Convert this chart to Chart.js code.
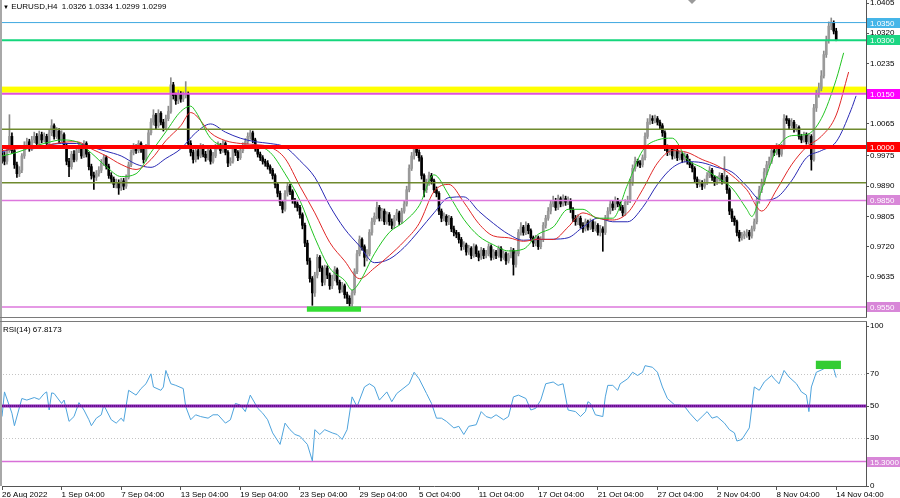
<!DOCTYPE html>
<html>
<head>
<meta charset="utf-8">
<script src="https://cdn.jsdelivr.net/npm/chart.js@4.4.0/dist/chart.umd.min.js"></script>
<style>
  html, body { margin: 0; padding: 0; background: #fff; }
  #wrap { position: relative; width: 900px; height: 498px; overflow: hidden; font-family: "Liberation Sans", Arial, sans-serif; }
  canvas { position: absolute; left: 0; }
  #main { top: 0; }
  #rsi { top: 318px; }
  .txt { position: absolute; font-size: 8px; line-height: 10px; color: #000; white-space: pre; }
  .tri { position: absolute; left: 688px; top: 0; width: 0; height: 0; border-left: 4px solid transparent; border-right: 4px solid transparent; border-top: 4px solid #9a9a9a; }
</style>
</head>
<body>
<div id="wrap">
  <canvas id="main" width="900" height="318"></canvas>
  <canvas id="rsi" width="900" height="180"></canvas>
  <div class="txt" style="left:3px;top:2px"><span style="font-size:6px">▼</span> EURUSD,H4  1.0326 1.0334 1.0299 1.0299</div>
  <div class="txt" style="left:3px;top:325px">RSI(14) 67.8173</div>
  <div class="tri"></div>
</div>
<script>
const FONT = '"Liberation Sans", Arial, sans-serif';

// EURUSD H4 candles, in pips (1.0000 = 10000); open of each bar = previous close
const firstOpen = 9985;
const closes = [
  9975,9960,9990,10030,9990,9950,9925,9935,9975,10005,
  10015,9995,10020,10030,10010,10035,10020,10030,10010,10040,
  10060,10030,10045,10020,10035,10005,9960,9945,9980,9965,
  9990,10000,9975,10010,9980,9945,9920,9915,9925,9935,
  9955,9970,9945,9920,9910,9895,9900,9885,9905,9890,
  9915,9950,9985,10000,9990,10010,9995,9965,10000,10040,
  10070,10090,10060,10095,10070,10055,10080,10100,10175,10145,
  10130,10150,10135,10145,10150,10010,9985,9965,9990,9975,
  10000,9980,9970,9990,9960,9975,10000,10005,9990,10010,
  9985,9955,9960,9995,9985,9970,9990,10005,10015,10030,
  10040,10020,9995,9980,9970,9960,9955,9945,9935,9920,
  9895,9870,9845,9825,9870,9890,9875,9850,9840,9830,
  9810,9780,9730,9680,9630,9590,9640,9690,9660,9620,
  9660,9640,9610,9630,9655,9620,9600,9610,9585,9575,
  9560,9590,9650,9700,9740,9720,9690,9700,9760,9790,
  9805,9830,9800,9820,9790,9810,9790,9780,9800,9815,
  9790,9820,9840,9880,9940,9975,9995,9985,9970,9920,
  9880,9900,9920,9905,9880,9870,9820,9800,9805,9790,
  9800,9770,9760,9755,9740,9720,9725,9705,9715,9695,
  9720,9700,9690,9710,9695,9700,9720,9690,9705,9695,
  9715,9690,9700,9680,9695,9710,9670,9700,9760,9775,
  9760,9780,9765,9745,9730,9745,9720,9740,9780,9800,
  9820,9840,9850,9830,9855,9840,9855,9845,9850,9825,
  9800,9790,9800,9780,9770,9790,9775,9790,9770,9780,
  9760,9770,9760,9800,9820,9840,9830,9850,9840,9830,
  9815,9845,9850,9900,9940,9960,9955,9950,9970,10030,
  10070,10080,10075,10080,10070,10060,10040,10000,9985,9995,
  9975,9990,9970,9980,9965,9975,9960,9950,9940,9910,
  9895,9900,9890,9900,9920,9935,9915,9900,9910,9920,
  9905,9915,9880,9820,9800,9790,9760,9745,9750,9755,
  9760,9750,9770,9790,9850,9880,9900,9930,9950,9960,
  9990,9985,10000,9980,10000,10080,10075,10060,10070,10050,
  10055,10030,10020,10035,10015,10030,9965,10110,10150,10165,
  10200,10260,10300,10340,10350,10326,10299
];
const highs = [
  9995,9985,10000,10091,10040,9998,9958,9945,9982,10015,
  10025,10022,10030,10042,10038,10045,10042,10040,10036,10050,
  10077,10065,10055,10052,10046,10040,10010,9968,9988,9990,
  9998,10013,10006,10018,10015,9986,9952,9930,9934,9945,
  9965,9978,9975,9952,9928,9916,9910,9908,9912,9912,
  9922,9958,9992,10010,10006,10018,10015,10000,10008,10050,
  10080,10105,10095,10105,10100,10078,10090,10115,10195,10182,
  10152,10160,10156,10155,10184,10155,10018,9992,9998,9996,
  10010,10006,9988,9998,9995,9985,10008,10015,10010,10018,
  10015,9990,9970,10003,10002,9990,9998,10012,10024,10040,
  10049,10045,10025,10000,9986,9976,9966,9962,9950,9940,
  9925,9900,9876,9850,9878,9900,9895,9880,9856,9846,
  9836,9815,9786,9738,9688,9636,9648,9698,9695,9666,
  9668,9666,9646,9640,9664,9660,9626,9620,9615,9592,
  9582,9598,9658,9710,9750,9745,9725,9712,9768,9800,
  9815,9845,9836,9828,9826,9818,9816,9798,9808,9825,
  9820,9828,9850,9890,9950,9985,10001,10001,9992,9976,
  9925,9910,9930,9926,9910,9888,9875,9826,9815,9810,
  9808,9805,9778,9766,9760,9746,9734,9730,9724,9720,
  9728,9725,9708,9718,9715,9710,9728,9725,9712,9710,
  9722,9720,9708,9705,9702,9718,9715,9708,9768,9788,
  9780,9790,9785,9770,9750,9752,9750,9748,9788,9808,
  9830,9850,9862,9856,9865,9860,9866,9862,9860,9855,
  9830,9808,9810,9806,9788,9798,9795,9798,9795,9790,
  9785,9780,9776,9808,9830,9850,9848,9860,9856,9846,
  9836,9852,9862,9910,9950,9972,9966,9962,9978,10040,
  10080,10091,10088,10090,10086,10076,10066,10046,10006,10004,
  10000,9998,9995,9988,9986,9984,9980,9966,9956,9945,
  9916,9908,9906,9910,9928,9945,9940,9920,9918,9928,
  9926,9973,9920,9885,9826,9806,9795,9766,9760,9764,
  9768,9766,9778,9798,9860,9890,9910,9940,9960,9972,
  10000,10000,10010,10006,10008,10091,10088,10080,10080,10075,
  10064,10060,10036,10042,10040,10038,10035,10120,10160,10180,
  10215,10270,10312,10352,10363,10355,10334
];
const lows = [
  9955,9950,9952,9985,9982,9940,9915,9917,9928,9968,
  9998,9988,9990,10012,10002,10005,10012,10014,10000,10004,
  10032,10022,10024,10012,10014,9998,9950,9917,9938,9958,
  9960,9984,9968,9970,9972,9936,9910,9881,9906,9918,
  9928,9948,9938,9912,9900,9886,9885,9867,9878,9880,
  9884,9910,9945,9978,9982,9984,9985,9955,9960,9995,
  10034,10062,10052,10055,10062,10045,10050,10074,10095,10135,
  10120,10122,10126,10128,10138,10000,9975,9955,9958,9966,
  9970,9972,9960,9964,9952,9955,9970,9994,9982,9985,
  9978,9945,9948,9955,9976,9962,9965,9984,9998,10008,
  10022,10012,9988,9972,9962,9952,9946,9938,9926,9910,
  9885,9860,9835,9815,9820,9862,9866,9842,9830,9820,
  9800,9770,9720,9670,9620,9555,9580,9632,9650,9610,
  9612,9630,9600,9602,9624,9612,9590,9592,9575,9560,
  9540,9545,9584,9644,9694,9710,9665,9680,9694,9752,
  9782,9798,9792,9792,9782,9783,9780,9770,9772,9794,
  9782,9785,9814,9834,9874,9934,9966,9976,9960,9910,
  9860,9872,9892,9896,9872,9860,9810,9790,9792,9780,
  9782,9762,9750,9745,9730,9710,9712,9696,9698,9686,
  9690,9692,9680,9684,9686,9688,9694,9682,9684,9686,
  9690,9680,9684,9670,9674,9688,9640,9662,9694,9752,
  9752,9754,9756,9736,9720,9722,9712,9714,9734,9772,
  9794,9812,9832,9822,9824,9832,9834,9836,9838,9816,
  9790,9780,9782,9772,9760,9764,9766,9768,9762,9764,
  9752,9750,9707,9754,9794,9812,9822,9824,9832,9822,
  9806,9808,9838,9844,9892,9932,9946,9942,9944,9964,
  10024,10064,10066,10068,10062,10050,10030,9990,9976,9978,
  9966,9968,9962,9964,9956,9958,9952,9942,9930,9900,
  9886,9888,9880,9884,9894,9914,9906,9892,9894,9904,
  9896,9898,9870,9810,9790,9780,9750,9735,9738,9742,
  9746,9740,9744,9764,9784,9842,9872,9894,9922,9942,
  9954,9976,9978,9972,9974,9995,10066,10052,10054,10042,
  10044,10022,10012,10014,10008,10008,9935,9960,10100,10140,
  10158,10194,10252,10292,10330,10318,10299
];

// time axis: 349 slots (337 bars + shifted space on the right)
const slots = 349;
const xTickIdx = [0,24,48,72,96,120,144,168,192,216,240,264,288,312,336];
const xTickText = ['26 Aug 2022','1 Sep 04:00','7 Sep 04:00','13 Sep 04:00','19 Sep 04:00','23 Sep 04:00',
  '29 Sep 04:00','5 Oct 04:00','11 Oct 04:00','17 Oct 04:00','21 Oct 04:00','27 Oct 04:00',
  '2 Nov 04:00','8 Nov 04:00','14 Nov 04:00'];

// Alligator lines (bar index, pips)
const lipsAt = [0,6,12,18,24,30,36,42,48,54,60,66,72,76,78,84,90,96,102,108,114,120,126,132,138,141,144,150,156,162,
  168,174,180,186,192,198,204,210,216,222,228,234,240,246,252,258,264,270,276,282,288,294,300,302,306,312,318,324,330,336,339];
const lipsVal = [9975,9985,10000,10012,10020,10015,9983,9945,9917,9925,9985,10043,10100,10115,10100,10025,10003,10001,10003,9985,
  9925,9850,9745,9660,9625,9598,9620,9700,9760,9790,9835,9922,9865,9797,9750,9725,9708,9713,9755,9775,
  9825,9825,9800,9800,9895,9990,10020,10025,9965,9942,9915,9885,9825,9805,9880,9993,10032,10035,10080,10190,10265];
const teethAt = [0,6,12,18,24,30,36,42,48,54,60,66,72,76,78,84,90,96,102,108,114,120,126,132,138,144,150,156,162,168,
  174,180,186,192,198,204,210,216,222,228,234,240,246,252,258,264,270,276,282,288,294,300,306,312,318,324,330,336,341];
const teethVal = [9990,9995,10000,10005,10013,10015,9995,9975,9951,9937,9965,10018,10060,10097,10090,10040,10018,10010,10007,10000,
  9968,9890,9815,9732,9680,9630,9660,9695,9735,9785,9875,9895,9845,9785,9750,9745,9735,9741,9740,9775,
  9815,9800,9795,9815,9880,9955,9990,9985,9965,9948,9920,9880,9820,9880,9950,10000,10030,10090,10211];
const jawAt = [0,6,12,18,24,30,36,42,48,54,60,66,72,78,84,90,96,102,108,114,120,126,132,138,144,150,156,162,168,174,
  180,186,192,198,204,210,216,222,228,234,240,246,252,258,264,270,276,282,288,294,300,306,312,318,324,330,336,342,344];
const jawVal = [9985,10000,9995,10005,10010,10010,10000,9988,9975,9952,9943,9968,9995,10040,10065,10042,10025,10015,10010,10000,
  9962,9915,9835,9770,9722,9675,9685,9718,9765,9815,9858,9860,9820,9785,9755,9738,9740,9741,9745,9775,
  9800,9790,9790,9830,9895,9942,9959,9956,9943,9930,9890,9850,9858,9905,9970,9990,10015,10105,10144];

// RSI(14) (bar index, value)
const rsiAt = [0,1,4,5,8,10,13,15,17,18,19,20,21,24,25,27,29,31,33,35,36,38,40,41,44,46,48,49,51,54,56,58,60,61,64,65,66,68,70,73,
  74,76,78,80,83,85,87,90,92,94,96,98,100,103,105,107,109,112,114,116,118,120,123,125,126,128,130,133,135,137,
  139,141,143,146,148,150,152,155,157,159,164,166,168,171,173,175,177,179,182,184,186,188,191,193,195,197,199,202,204,206,
  208,211,213,215,217,219,222,224,226,228,231,233,235,236,237,239,242,243,244,246,248,249,252,254,256,258,259,262,264,266,
  268,271,273,275,277,280,282,284,286,288,291,293,295,296,298,301,303,305,307,310,311,313,315,317,320,322,324,325,326,328,
  331,333,335,336];
const rsiVal = [43.4,58.8,45.5,37.7,54.7,53.7,55.3,54.1,57.8,58.8,47.5,58.2,57.8,51.6,53.7,40.4,43.4,52.1,47.5,41.4,37.7,42.4,44.5,50.6,41.4,39.3,42.4,40.4,59.8,56.8,60.9,63.9,70.1,61.9,59.8,61.9,72.2,63.9,62.9,60.9,
  49.6,41.4,44.5,43.4,42.4,44.5,44.5,39.3,41.4,51.6,50.6,46.5,56.8,48.6,45.5,41.4,33.2,26.0,39.3,35.2,32.2,31.1,26.0,15.7,35.2,32.2,35.2,33.2,32.2,29.1,
  35.2,55.7,49.6,61.9,63.9,61.9,53.7,58.8,52.7,57.8,63.9,71.1,67.0,57.8,51.6,42.4,42.4,40.4,36.3,37.3,32.2,37.3,38.3,46.5,43.4,42.4,44.5,41.4,43.4,55.7,
  56.8,54.7,47.5,48.6,53.7,63.9,65.0,62.9,63.9,47.5,46.5,43.4,46.5,52.7,51.6,44.5,43.4,55.7,62.9,62.9,59.8,63.9,67.0,71.1,69.1,71.1,75.2,74.2,71.1,61.9,
  54.7,50.6,50.6,49.6,45.5,40.4,43.4,46.5,42.4,43.4,39.3,35.2,33.2,28.1,29.1,36.3,61.9,59.8,65.0,69.1,67.0,63.9,72.2,68.1,63.9,58.8,56.8,46.5,61.9,71.1,
  73.2,76.3,73.2,67.8];

// axis ticks and horizontal levels
const priceTicks = [1.0405, 1.0320, 1.0235, 1.0065, 0.9975, 0.9890, 0.9805, 0.9720, 0.9635];
const rsiTicks = [100, 70, 50, 30, 0];
const levels = [1.0350, 1.0300, 1.0150, 1.0050, 1.0000, 0.9900, 0.9850, 0.9550];
const band = [1.0153, 1.0170];
const rsiLevels = [70, 30, 50, 15.3];
const priceMark = [122.8, 144.6, 0.9537, 0.9552];
const rsiMark = [327.8, 337.9, 73.1, 78.3];

const levelStyle = [
  { c: '#3ea8e0', w: 1, tag: '#45b5e8' },
  { c: '#14d67c', w: 2, tag: '#1cd683' },
  { c: '#e050e0', w: 2, tag: '#ff00ff' },
  { c: '#6f8a2e', w: 1.5 },
  { c: '#ff0000', w: 4, tag: '#ff0000' },
  { c: '#6f8a2e', w: 1.5 },
  { c: '#dd77dd', w: 1.5, tag: '#d887d8' },
  { c: '#dd77dd', w: 1.5, tag: '#d887d8' }
];

[[highs, 'highs'], [lows, 'lows']].forEach(([a, n]) => { if (a.length !== closes.length) throw new Error(n + ' ' + a.length + ' vs ' + closes.length); });
[[lipsAt, lipsVal, 'lips'], [teethAt, teethVal, 'teeth'], [jawAt, jawVal, 'jaw'], [rsiAt, rsiVal, 'rsi']].forEach(([a, b, n]) => {
  if (a.length !== b.length) throw new Error(n + ' ' + a.length + ' vs ' + b.length);
});

const labels = Array(slots).fill('');
xTickIdx.forEach((v, k) => labels[v] = xTickText[k]);
const opens = closes.map((c, i) => i ? closes[i - 1] : firstOpen);
const up = closes.map((c, i) => c >= opens[i]);
const sparse = (at, val, k) => {
  const a = Array(slots).fill(null);
  at.forEach((x, j) => a[x] = val[j] / k);
  return a;
};

function tag(ctx, x, yPix, text, bg) {
  const y = Math.round(yPix);
  ctx.fillStyle = bg;
  ctx.fillRect(x, y - 5, 33, 10);
  ctx.fillStyle = '#fff';
  ctx.font = '8px ' + FONT;
  ctx.textAlign = 'left';
  ctx.textBaseline = 'middle';
  ctx.fillText(text, x + 3, y + 0.5);
}

function hline(ctx, x0, x1, y, color, w, dash) {
  ctx.save();
  ctx.strokeStyle = color;
  ctx.lineWidth = w;
  ctx.setLineDash(dash || []);
  ctx.beginPath();
  ctx.moveTo(x0, y);
  ctx.lineTo(x1, y);
  ctx.stroke();
  ctx.restore();
}

const mainDraw = {
  id: 'mainDraw',
  beforeDatasetsDraw(chart) {
    const { ctx, chartArea: a, scales: { y } } = chart;
    const y0 = y.getPixelForValue(band[1]), y1 = y.getPixelForValue(band[0]);
    ctx.fillStyle = '#ffff00';
    ctx.fillRect(0, y0, a.right, y1 - y0);
  },
  afterDatasetsDraw(chart) {
    const { ctx, chartArea: a, scales: { x, y } } = chart;
    levels.forEach((v, k) => hline(ctx, 0, a.right, y.getPixelForValue(v), levelStyle[k].c, levelStyle[k].w));
    const px0 = x.getPixelForValue(priceMark[0]), px1 = x.getPixelForValue(priceMark[1]);
    const py0 = y.getPixelForValue(priceMark[3]), py1 = y.getPixelForValue(priceMark[2]);
    ctx.fillStyle = '#33dd33';
    ctx.fillRect(px0, py0, px1 - px0, py1 - py0);
  },
  afterDraw(chart) {
    const { ctx, chartArea: a, scales: { y } } = chart;
    levels.forEach((v, k) => {
      if (levelStyle[k].tag) tag(ctx, a.right + 1, y.getPixelForValue(v), v.toFixed(4), levelStyle[k].tag);
    });
    ctx.fillStyle = '#a8a8a8';
    ctx.fillRect(0, 0, 2, chart.height);
    ctx.fillStyle = '#7a7a7a';
    ctx.fillRect(0, chart.height - 1, a.right + 1, 1);
  }
};

const rsiDraw = {
  id: 'rsiDraw',
  beforeDatasetsDraw(chart) {
    const { ctx, chartArea: a, scales: { y } } = chart;
    hline(ctx, 0, a.right, Math.round(y.getPixelForValue(rsiLevels[0])) + 0.5, '#c4c4c4', 1, [1, 2]);
    hline(ctx, 0, a.right, Math.round(y.getPixelForValue(rsiLevels[1])) + 0.5, '#c4c4c4', 1, [1, 2]);
    hline(ctx, 0, a.right, y.getPixelForValue(rsiLevels[3]), '#d870d8', 1.5);
  },
  afterDatasetsDraw(chart) {
    const { ctx, chartArea: a, scales: { x, y } } = chart;
    const y50 = Math.round(y.getPixelForValue(rsiLevels[2]));
    hline(ctx, 0, a.right, y50, '#8a20b8', 3);
    hline(ctx, 0, a.right, y50, '#3c0a50', 1, [1, 1]);
    const px0 = x.getPixelForValue(rsiMark[0]), px1 = x.getPixelForValue(rsiMark[1]);
    const py0 = y.getPixelForValue(rsiMark[3]), py1 = y.getPixelForValue(rsiMark[2]);
    ctx.fillStyle = '#33cc33';
    ctx.fillRect(px0, py0, px1 - px0, py1 - py0);
  },
  afterDraw(chart) {
    const { ctx, chartArea: a, scales: { y } } = chart;
    tag(ctx, a.right + 1, y.getPixelForValue(rsiLevels[3]), '15.3000', '#d887d8');
    ctx.fillStyle = '#a8a8a8';
    ctx.fillRect(0, 0, 2, a.bottom);
    ctx.fillStyle = '#7a7a7a';
    ctx.fillRect(0, a.top - 1, a.right + 1, 1);
  }
};

Chart.defaults.font.family = FONT;
Chart.defaults.font.size = 8;
Chart.defaults.color = '#000';

const xScale = (show) => ({
  type: 'category',
  display: show,
  offset: false,
  afterBuildTicks: s => { s.ticks = xTickIdx.map(v => ({ value: v })); },
  afterFit: s => { if (show) s.height = 12; s.paddingLeft = 0; s.paddingRight = 0; },
  ticks: { autoSkip: false, maxRotation: 0, minRotation: 0, align: 'start', padding: 0, color: '#000' },
  grid: { offset: false, drawOnChartArea: false, tickLength: 4, color: '#555' },
  border: { color: '#555' }
});

const yScale = (min, max, ticks, fmt) => ({
  position: 'right',
  min: min,
  max: max,
  afterBuildTicks: s => { s.ticks = ticks.map(v => ({ value: v })); },
  afterFit: s => { s.width = 34; s.paddingTop = 0; s.paddingBottom = 0; },
  ticks: { autoSkip: false, padding: 1, color: '#000', callback: fmt },
  grid: { drawOnChartArea: false, tickLength: 3, color: '#555' },
  border: { color: '#555' }
});

new Chart(document.getElementById('main'), {
  type: 'bar',
  data: {
    labels: labels,
    datasets: [
      { type: 'line', data: sparse(lipsAt, lipsVal, 1e4), borderColor: '#22c422', borderWidth: 1, pointRadius: 0, spanGaps: true, cubicInterpolationMode: 'monotone', order: 0 },
      { type: 'line', data: sparse(teethAt, teethVal, 1e4), borderColor: '#e02828', borderWidth: 1, pointRadius: 0, spanGaps: true, cubicInterpolationMode: 'monotone', order: 0 },
      { type: 'line', data: sparse(jawAt, jawVal, 1e4), borderColor: '#2a2ab4', borderWidth: 1, pointRadius: 0, spanGaps: true, cubicInterpolationMode: 'monotone', order: 0 },
      {
        data: closes.map((c, i) => [opens[i] / 1e4, c / 1e4]),
        backgroundColor: up.map(u => u ? '#9a9a9a' : '#000'),
        barThickness: 2, grouped: false, minBarLength: 1, order: 1
      },
      {
        data: closes.map((c, i) => [lows[i] / 1e4, highs[i] / 1e4]),
        backgroundColor: up.map(u => u ? '#8a8a8a' : '#000'),
        barThickness: 1, grouped: false, minBarLength: 1, order: 2
      }
    ]
  },
  options: {
    responsive: false,
    animation: false,
    devicePixelRatio: 1,
    layout: { padding: { left: 2, right: 0, top: 0, bottom: 1 } },
    plugins: { legend: { display: false }, tooltip: { enabled: false } },
    scales: {
      x: xScale(false),
      y: yScale(0.95222, 1.04135, priceTicks, v => Number(v).toFixed(4))
    }
  },
  plugins: [mainDraw]
});

new Chart(document.getElementById('rsi'), {
  type: 'line',
  data: {
    labels: labels,
    datasets: [
      { data: sparse(rsiAt, rsiVal, 1), borderColor: '#4ea3dc', borderWidth: 1, pointRadius: 0, spanGaps: true, tension: 0 }
    ]
  },
  options: {
    responsive: false,
    animation: false,
    devicePixelRatio: 1,
    layout: { padding: { left: 2, right: 0, top: 4, bottom: 0 } },
    plugins: { legend: { display: false }, tooltip: { enabled: false } },
    scales: {
      x: xScale(true),
      y: yScale(0, 102.5, rsiTicks, v => String(v))
    }
  },
  plugins: [rsiDraw]
});
</script>
</body>
</html>
